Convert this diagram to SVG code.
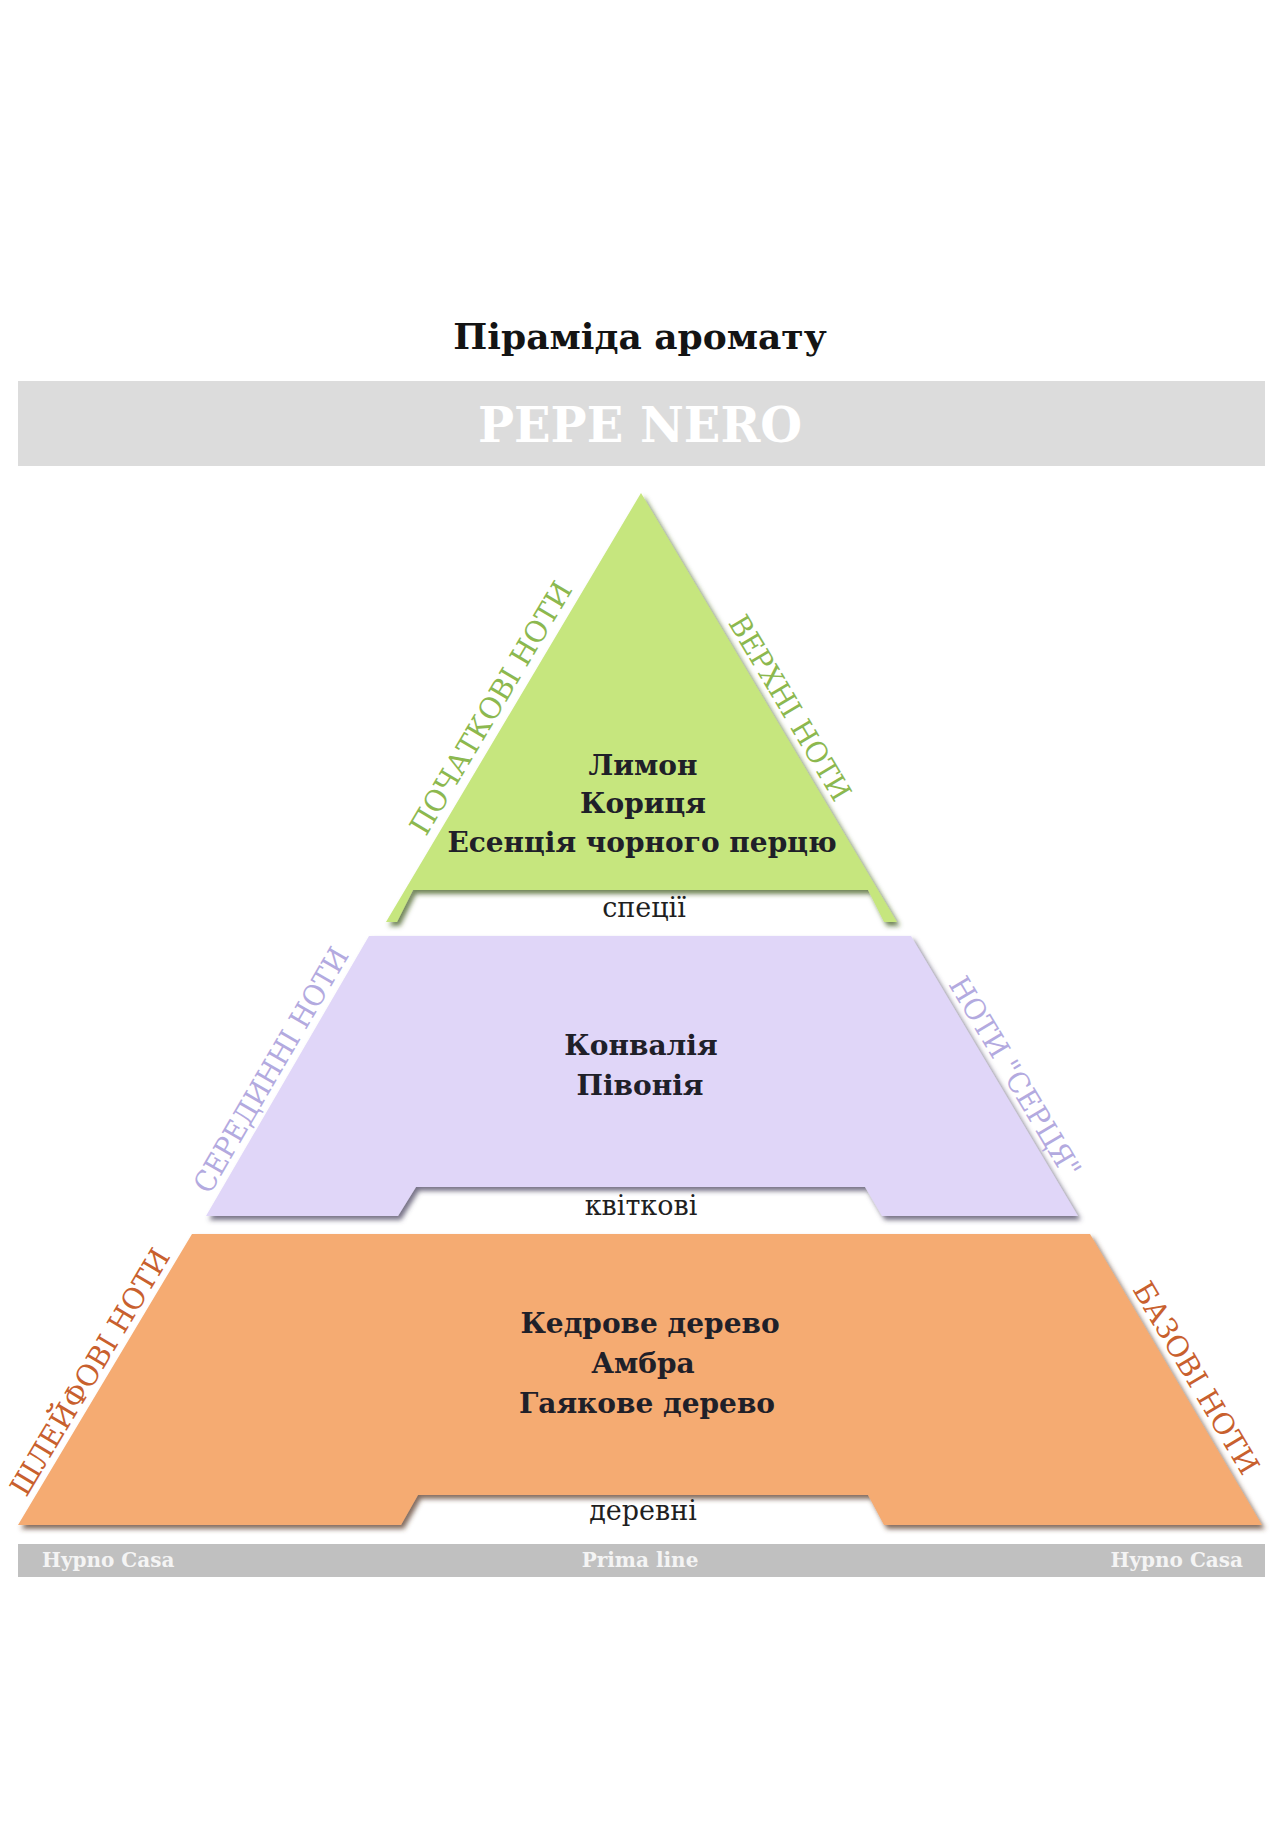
<svg xmlns="http://www.w3.org/2000/svg" width="1284" height="1821" viewBox="0 0 1284 1821">
<style>
  .title{font-family:"DejaVu Serif","Liberation Serif",serif;font-weight:bold;font-size:36px;fill:#141414;text-anchor:middle}
  .brand{font-family:"DejaVu Serif","Liberation Serif",serif;font-weight:bold;font-size:48px;fill:#ffffff;text-anchor:middle}
  .note{font-family:"DejaVu Serif","Liberation Serif",serif;font-weight:bold;font-size:28px;fill:#1f2029;text-anchor:middle}
  .fam{font-family:"DejaVu Serif","Liberation Serif",serif;font-size:27px;fill:#1f1f1f;text-anchor:middle}
  .side{font-family:"DejaVu Serif","Liberation Serif",serif;font-size:29px;text-anchor:middle}
  .g{fill:#8cb84f}
  .p{fill:#b3aadf}
  .o{fill:#c8602e}
  .foot{font-family:"DejaVu Serif","Liberation Serif",serif;font-weight:bold;font-size:20px;fill:#f4f4f4}
</style>
<defs>
  <filter id="shG" x="-5%" y="-5%" width="112%" height="115%">
    <feDropShadow dx="3" dy="4" stdDeviation="2.5" flood-color="#3e5a1c" flood-opacity="0.75"/>
  </filter>
  <filter id="shP" x="-5%" y="-5%" width="112%" height="115%">
    <feDropShadow dx="3" dy="4" stdDeviation="2.5" flood-color="#4a4560" flood-opacity="0.75"/>
  </filter>
  <filter id="shO" x="-5%" y="-5%" width="112%" height="115%">
    <feDropShadow dx="3" dy="4" stdDeviation="2.5" flood-color="#5a3a25" flood-opacity="0.75"/>
  </filter>
</defs>
<rect width="1284" height="1821" fill="#ffffff"/>

<g id="header">
  <text class="title" x="640" y="349">Піраміда аромату</text>
  <rect x="18" y="381" width="1247" height="85" fill="#dcdcdc"/>
  <text class="brand" x="640" y="442">PEPE NERO</text>
</g>

<g id="top-notes">
  <path d="M641,493 L897,922 L884,922 L868,890 L413,890 L397,922 L386,922 Z" fill="#c6e67e" filter="url(#shG)"/>
  <text class="note" x="643" y="775">Лимон</text>
  <text class="note" x="643" y="813">Кориця</text>
  <text class="note" x="642" y="852">Есенція чорного перцю</text>
  <text class="fam" x="644" y="917">спеції</text>
  <text class="side g" transform="translate(491,708) rotate(-59.3)" x="0" y="10" textLength="288" lengthAdjust="spacingAndGlyphs">ПОЧАТКОВІ НОТИ</text>
  <text class="side g" transform="translate(790,708) rotate(59.3)" x="0" y="10" textLength="210" lengthAdjust="spacingAndGlyphs">ВЕРХНІ НОТИ</text>
</g>

<g id="heart-notes">
  <path d="M369,936 L911,936 L1078,1216 L882,1216 L865,1187 L416,1187 L398,1216 L206,1216 Z" fill="#e0d6f8" filter="url(#shP)"/>
  <text class="note" x="641" y="1055">Конвалія</text>
  <text class="note" x="640" y="1095">Півонія</text>
  <text class="fam" x="641" y="1215">квіткові</text>
  <text class="side p" transform="translate(271,1070) rotate(-59.8)" x="0" y="10" textLength="278" lengthAdjust="spacingAndGlyphs">СЕРЕДИННІ НОТИ</text>
  <text class="side p" transform="translate(1015,1077) rotate(59.2)" x="0" y="10" textLength="228" lengthAdjust="spacingAndGlyphs">НОТИ "СЕРЦЯ"</text>
</g>

<g id="base-notes">
  <path d="M192,1234 L1090,1234 L1262,1525 L884,1525 L868,1495 L418,1495 L401,1525 L18,1525 Z" fill="#f5ab72" filter="url(#shO)"/>
  <text class="note" x="650" y="1333">Кедрове дерево</text>
  <text class="note" x="643" y="1373">Амбра</text>
  <text class="note" x="647" y="1413">Гаякове дерево</text>
  <text class="fam" x="643" y="1520">деревні</text>
  <text class="side o" transform="translate(90,1372) rotate(-59.1)" x="0" y="10" textLength="282" lengthAdjust="spacingAndGlyphs">ШЛЕЙФОВІ НОТИ</text>
  <text class="side o" transform="translate(1196,1378) rotate(59.4)" x="0" y="10" textLength="218" lengthAdjust="spacingAndGlyphs">БАЗОВІ НОТИ</text>
</g>

<g id="footer">
  <rect x="18" y="1544" width="1247" height="33" fill="#c0c0c0"/>
  <text class="foot" x="42" y="1567">Hypno Casa</text>
  <text class="foot" x="640" y="1567" text-anchor="middle">Prima line</text>
  <text class="foot" x="1243" y="1567" text-anchor="end">Hypno Casa</text>
</g>

<g id="connectors"></g>
</svg>
